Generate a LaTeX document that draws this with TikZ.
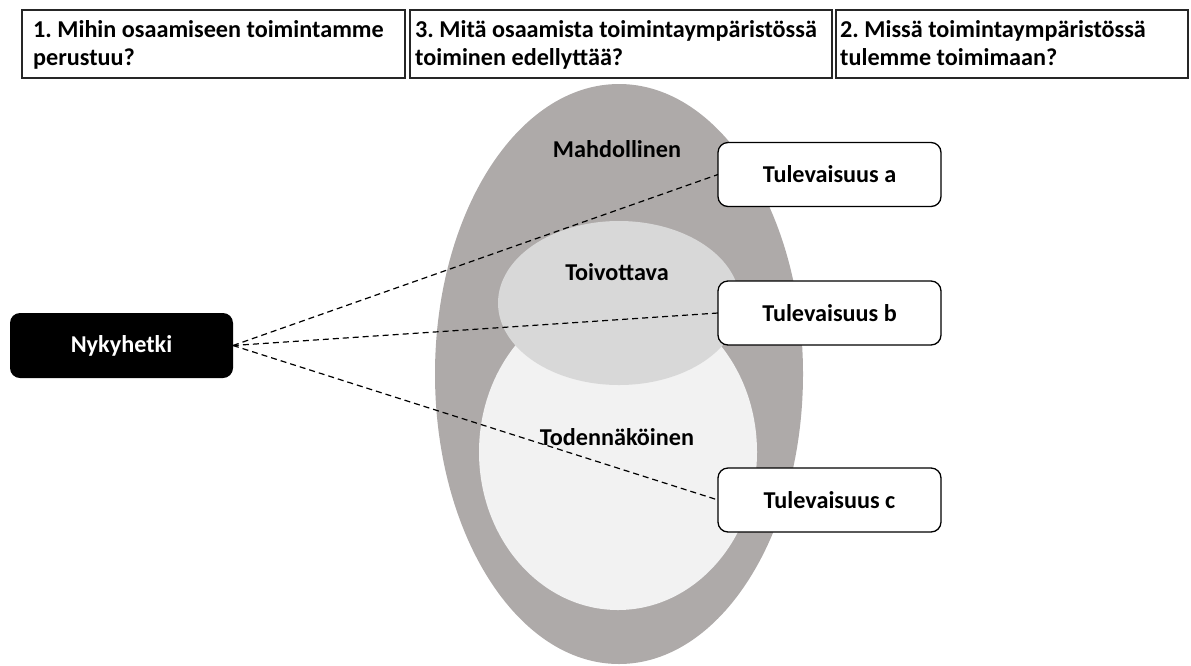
\documentclass[tikz,border=0pt]{standalone}
\usepackage{fontspec}
\setmainfont{Carlito}
\frenchspacing
\definecolor{outergray}{HTML}{AEAAA9}
\definecolor{midgray}{HTML}{D8D8D8}
\definecolor{lightgray2}{HTML}{F2F2F2}
\definecolor{boxline}{HTML}{262626}
\begin{document}
\begin{tikzpicture}[x=1pt,y=-1pt,
  txt/.style={font=\fontsize{24.2}{28}\selectfont\bfseries},
  topbox/.style={draw=boxline, line width=1.4pt, anchor=north west, minimum height=68pt, inner sep=0pt, outer sep=0pt},
  toptext/.style={txt, anchor=base west, inner sep=0pt},
  futbox/.style={txt, draw=black, fill=white, line width=1.3pt, rounded corners=10pt, minimum width=223pt, minimum height=64pt, inner sep=0pt, outer sep=0pt},
  nowbox/.style={txt, fill=black, text=white, rounded corners=10pt, minimum width=223pt, minimum height=65pt, inner sep=0pt, outer sep=0pt},
  region/.style={txt, anchor=base},
  link/.style={black, line width=1.2pt, dash pattern=on 6pt off 4pt}
]
\useasboundingbox (0,0) rectangle (1191,665);

% top question boxes
\node[topbox, minimum width=383pt] (q1) at (22,10) {};
\node[topbox, minimum width=422pt] (q3) at (410,10) {};
\node[topbox, minimum width=352pt] (q2) at (836,10) {};
\node[toptext] (q1t) at (33,37.3)
  {\begin{tabular}[t]{@{}l@{}}1. Mihin osaamiseen toimintamme\\perustuu?\end{tabular}};
\node[toptext] (q3t) at (415,37.3)
  {\begin{tabular}[t]{@{}l@{}}3. Mitä osaamista toimintaympäristössä\\toiminen edellyttää?\end{tabular}};
\node[toptext] (q2t) at (840,37.3)
  {\begin{tabular}[t]{@{}l@{}}2. Missä toimintaympäristössä\\tulemme toimimaan?\end{tabular}};

% nested regions
\fill[outergray] (619,374) ellipse [x radius=184pt, y radius=290pt];
\fill[lightgray2] (618,452) ellipse [x radius=139pt, y radius=158pt];
\fill[midgray] (619,303) ellipse [x radius=121pt, y radius=82pt];

\node[region] (mahd) at (617,157) {Mahdollinen};
\node[region] (toiv) at (617,280) {Toivottava};
\node[region] (tode) at (617,445) {Todennäköinen};

% present and futures
\node[nowbox] (now) at (121.5,345.5) {Nykyhetki};
\node[futbox] (fa) at (829.5,174.5) {Tulevaisuus a};
\node[futbox] (fb) at (829.5,313) {Tulevaisuus b};
\node[futbox] (fc) at (829.5,500) {Tulevaisuus c};

\draw[link] (now.east) -- (fa.west);
\draw[link] (now.east) -- (fb.west);
\draw[link] (now.east) -- (fc.west);
\end{tikzpicture}
\end{document}
